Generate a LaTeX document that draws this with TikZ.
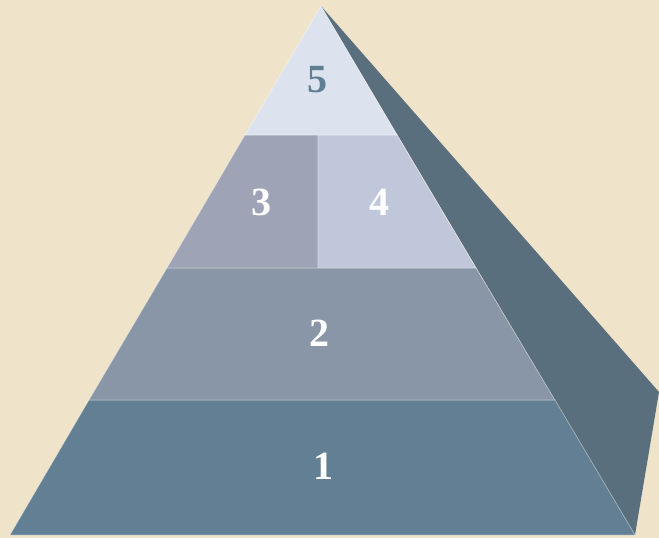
\documentclass[tikz,border=0pt]{standalone}
\usepackage{fontspec}
\setmainfont{Liberation Serif}
\definecolor{bgc}{HTML}{EFE4C9}
\definecolor{sidec}{HTML}{5A6F7E}
\definecolor{lfive}{HTML}{DCE3EF}
\definecolor{lthree}{HTML}{9EA3B5}
\definecolor{lfour}{HTML}{C1C7DA}
\definecolor{ltwo}{HTML}{8896A7}
\definecolor{lone}{HTML}{627F93}
\definecolor{numdark}{HTML}{5F7F93}
\begin{document}
\begin{tikzpicture}[x=1pt,y=-1pt,
  layer/.style={draw=white,draw opacity=0.35,line width=0.8pt},
  num/.style={font=\bfseries\fontsize{40}{40}\selectfont,text=white,inner sep=0pt}]
\fill[bgc] (0,0) rectangle (659,538);
\useasboundingbox (0,0) rectangle (659,538);
% side face
\fill[sidec] (321,6) -- (659,392) -- (635,535) -- cycle;
% layers
\path[layer,fill=lone] (89,400) -- (555,400) -- (635,535) -- (10,535) -- cycle;
\path[layer,fill=ltwo] (167,268) -- (476,268) -- (555,400) -- (89,400) -- cycle;
\path[layer,fill=lthree] (167,268) -- (245,135) -- (318,135) -- (318,268) -- cycle;
\path[layer,fill=lfour] (318,135) -- (397,135) -- (476,268) -- (318,268) -- cycle;
\path[layer,fill=lfive] (321,6) -- (397,135) -- (245,135) -- cycle;
\node[num,text=numdark] (n5) at (317,80) {5};
\node[num] (n3) at (261,202) {3};
\node[num] (n4) at (379,202) {4};
\node[num] (n2) at (319,333) {2};
\node[num] (n1) at (323,466) {1};
\end{tikzpicture}
\end{document}
